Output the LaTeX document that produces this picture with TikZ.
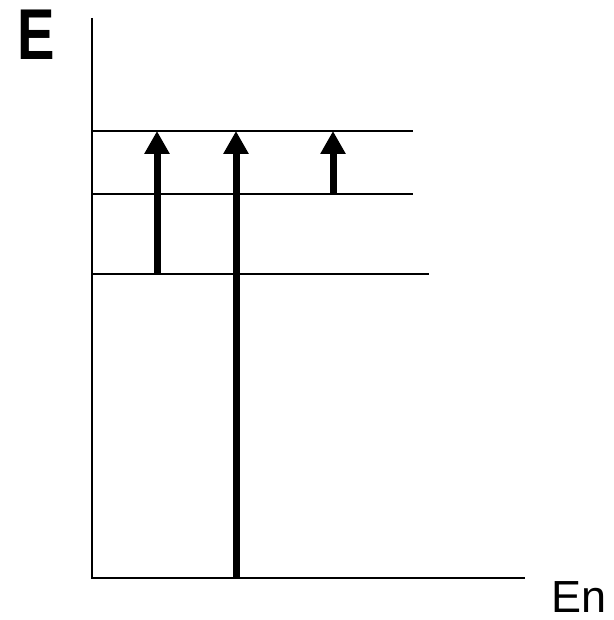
\documentclass[tikz,border=0pt]{standalone}
\usepackage{fontspec}
\usepackage{graphicx}
\setmainfont{Liberation Sans}
\usetikzlibrary{arrows.meta}
\tikzset{
  axisline/.style={line width=2pt},
  levelline/.style={line width=2pt},
  transarrow/.style={line width=7pt,-{Triangle[width=24pt,length=23pt]}, shorten >=0pt},
  axislabel/.style={inner sep=0pt, text depth=0pt, anchor=base west}
}
\begin{document}
\begin{tikzpicture}[x=1pt,y=-1pt]
\useasboundingbox (0,0) rectangle (613,620);
% axes
\coordinate (top) at (92,18);
\coordinate (origin) at (92,578);
\coordinate (xend) at (525,578);
\draw[axisline] (top) -- (origin) -- (xend);
% levels
\coordinate (l1a) at (92,131); \coordinate (l1b) at (413,131);
\coordinate (l2a) at (92,194); \coordinate (l2b) at (413,194);
\coordinate (l3a) at (92,274); \coordinate (l3b) at (429,274);
\draw[levelline] (l1a) -- (l1b);
\draw[levelline] (l2a) -- (l2b);
\draw[levelline] (l3a) -- (l3b);
% arrows
\coordinate (a1s) at (157,274); \coordinate (a1e) at (157,131);
\coordinate (a2s) at (236,578); \coordinate (a2e) at (236,131);
\coordinate (a3s) at (333,194); \coordinate (a3e) at (333,131);
\draw[transarrow] (a1s) -- (a1e);
\draw[transarrow] (a2s) -- (a2e);
\draw[transarrow] (a3s) -- (a3e);
% labels
\node[axislabel] (elabel) at (17,60) {\scalebox{0.78}[1]{\fontsize{72}{76}\selectfont\bfseries E}};
\node[axislabel] (enlabel) at (551,612) {\fontsize{45}{50}\selectfont En};
\end{tikzpicture}
\end{document}
